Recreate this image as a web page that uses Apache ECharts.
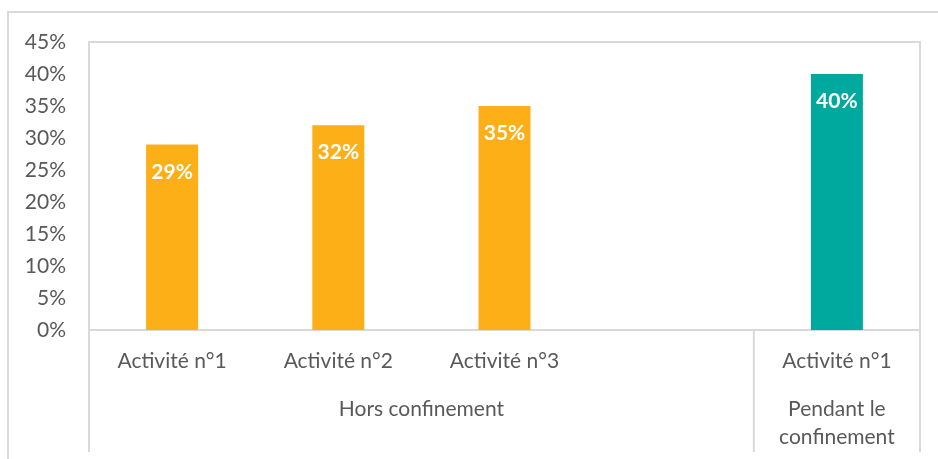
<!DOCTYPE html>
<html>
<head>
<meta charset="utf-8">
<script src="https://cdn.jsdelivr.net/npm/echarts@6/dist/echarts.min.js"></script>
<style>
  html, body { margin: 0; padding: 0; background: #fff; }
  #chart { width: 938px; height: 459px; }
</style>
</head>
<body>
<div id="chart"></div>
<script>
// données
const categories = ['Activité n°1', 'Activité n°2', 'Activité n°3', '', 'Activité n°1']
const values = [29, 32, 35, null, 40]
const barColors = ['#FCAF17', '#FCAF17', '#FCAF17', '#FCAF17', '#00A99D']
const groups = [
  { label: 'Hors confinement', from: 0, to: 3 },
  { label: 'Pendant le\nconfinement', from: 4, to: 4 }
]
const yTicks = { min: 0, max: 45, interval: 5 }

const textColor = '#595959'
const lineColor = '#d9d9d9'
const font = 'Lato, "Open Sans", sans-serif'
const fs = 21

let myChart = echarts.init(document.getElementById('chart'))

let option = {
  animation: false,
  grid: {
    left: 89, right: 18, top: 42, bottom: 129,
    show: true, borderColor: lineColor, borderWidth: 2
  },
  xAxis: {
    type: 'category',
    data: categories,
    axisLine: { show: false },
    axisTick: { show: false },
    axisLabel: { color: textColor, fontSize: fs, fontFamily: font, margin: 21, interval: 0 }
  },
  yAxis: {
    type: 'value',
    min: yTicks.min, max: yTicks.max, interval: yTicks.interval,
    splitLine: { show: false },
    axisLine: { show: false },
    axisLabel: { color: textColor, fontSize: fs, fontFamily: font, margin: 23, formatter: '{value}%' }
  },
  series: [{
    type: 'bar',
    barWidth: 52,
    data: values.map((v, i) => ({ value: v, itemStyle: { color: barColors[i] } })),
    label: {
      show: true,
      position: 'insideTop',
      distance: 17,
      color: '#fff',
      fontWeight: 'bold',
      fontSize: fs,
      fontFamily: font,
      formatter: p => p.value + '%'
    }
  }]
}
myChart.setOption(option)

// lignes de séparation et étiquettes de groupe, calées sur l'axe
function bandEdge(idx, side) {
  let c = myChart.convertToPixel({ xAxisIndex: 0 }, idx)
  let band = myChart.convertToPixel({ xAxisIndex: 0 }, 1) - myChart.convertToPixel({ xAxisIndex: 0 }, 0)
  return c + side * band / 2
}
let y0 = myChart.convertToPixel({ yAxisIndex: 0 }, 0)
let bottomY = 452
let elements = [{
  type: 'rect',
  shape: { x: 8, y: 12, width: 960, height: 470 },
  style: { fill: 'none', stroke: lineColor, lineWidth: 2 },
  silent: true
}]
let edges = [bandEdge(0, -1)]
groups.forEach(g => edges.push(bandEdge(g.to, 1)))
edges.forEach(x => {
  elements.push({
    type: 'line',
    shape: { x1: x, y1: y0, x2: x, y2: bottomY },
    style: { stroke: lineColor, lineWidth: 2 }
  })
})
groups.forEach(g => {
  let cx = (bandEdge(g.from, -1) + bandEdge(g.to, 1)) / 2
  elements.push({
    type: 'text',
    x: cx, y: 395,
    style: {
      text: g.label, fill: textColor, fontSize: fs, fontFamily: font,
      align: 'center', verticalAlign: 'top', lineHeight: 28
    }
  })
})
myChart.setOption({ graphic: elements })
</script>
</body>
</html>
